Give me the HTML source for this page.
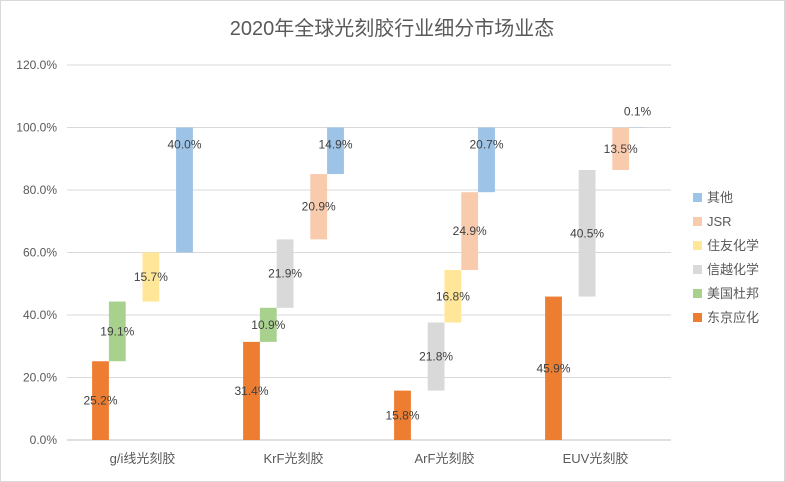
<!DOCTYPE html>
<html><head><meta charset="utf-8"><style>
body{margin:0;background:#fff}
svg{display:block;font-family:"Liberation Sans","Noto Sans CJK SC",sans-serif}
</style></head><body>
<svg id="chart" width="785" height="482">
<rect x="0.5" y="0.5" width="784" height="481" fill="#fff" stroke="#d9d9d9"/>
<text x="392" y="35" text-anchor="middle" font-size="20" fill="#595959">2020年全球光刻胶行业细分市场业态</text>
<g id="grid"></g><g id="bars"></g><g id="labels"></g><g id="legend"></g>
</svg>
<script>
const categories=["g/i线光刻胶","KrF光刻胶","ArF光刻胶","EUV光刻胶"];
const seriesNames=["东京应化","美国杜邦","信越化学","住友化学","JSR","其他"];
const tokyo=[25.2,31.4,15.8,45.9];
const dupont=[19.1,10.9,0,0];
const shinetsu=[0,21.9,21.8,40.5];
const sumitomo=[15.7,0,16.8,0];
const jsr=[0,20.9,24.9,13.5];
const others=[40.0,14.9,20.7,0.1];
const yTicks=[0,20,40,60,80,100,120];
const colors=["#ED7D31","#A9D18E","#D9D9D9","#FFE699","#F8CBAD","#9DC3E6"];
const series=[tokyo,dupont,shinetsu,sumitomo,jsr,others];
const NS="http://www.w3.org/2000/svg";
const x0=67,catW=151,barW=16.8,y0=440,yTop=65;
const y=v=>y0-(v/120)*(y0-yTop);
function mk(t,a,p){const e=document.createElementNS(NS,t);for(const k in a)e.setAttribute(k,a[k]);p.appendChild(e);return e;}
const grid=document.getElementById('grid'),bars=document.getElementById('bars'),labels=document.getElementById('labels'),legend=document.getElementById('legend');
yTicks.forEach(t=>{
 const l=mk('line',{x1:x0,x2:x0+catW*4,y1:y(t),y2:y(t),stroke:t===0?'#bfbfbf':'#d9d9d9'},grid);
 
 
 const tx=mk('text',{x:57,y:y(t)+4,'text-anchor':'end','font-size':12,fill:'#595959'},grid);
 tx.textContent=t.toFixed(1)+'%';
 
 
});
categories.forEach((c,i)=>{
 const gx=x0+i*catW+(catW-barW*6)/2;
 let cum=0;
 series.forEach((s,j)=>{
  const v=s[i];
  if(v>0){
   const bx=gx+j*barW;
   const r=mk('rect',{x:bx,y:y(cum+v),width:barW,height:y(cum)-y(cum+v),fill:colors[j]},bars);
   
   
   let ly;
   if(j===5){ly=(y(cum)-y(cum+v)>20)?y(cum+v)+21:y(cum+v)-12;}
   else ly=(y(cum)+y(cum+v))/2+4;
   const t=mk('text',{x:bx+barW/2,y:ly,'text-anchor':'middle','font-size':12,fill:'#404040'},labels);
   t.textContent=v.toFixed(1)+'%';
   
   
  }
  cum+=v;
 });
 const ct=mk('text',{x:x0+i*catW+catW/2,y:463,'text-anchor':'middle','font-size':13,fill:'#595959'},grid);
 ct.textContent=c;
 
 
});
for(let j=5;j>=0;j--){
 const ly=198+(5-j)*24;
 const g=mk('g',{},legend);
 
 
 mk('rect',{x:693,y:ly-5,width:9,height:9,fill:colors[j]},g);
 const t=mk('text',{x:707,y:ly+4,'font-size':13,fill:'#595959'},g);
 t.textContent=seriesNames[j];
}
</script>
</body></html>
